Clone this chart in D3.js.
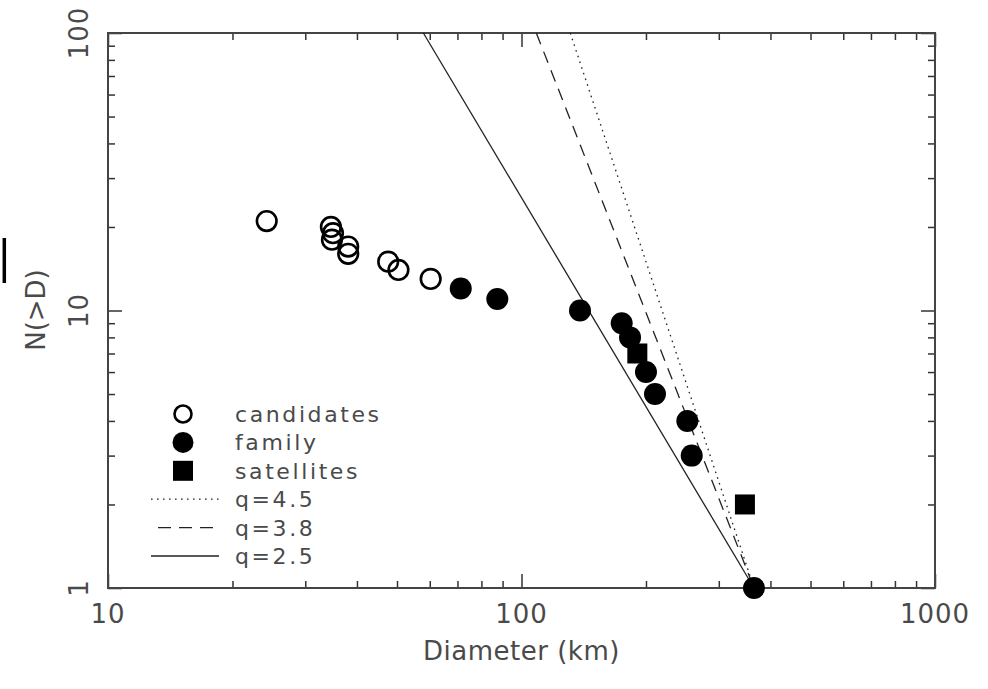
<!DOCTYPE html>
<html>
<head>
<meta charset="utf-8">
<script src="https://cdn.jsdelivr.net/npm/d3@7"></script>
<style>
  html, body { margin: 0; padding: 0; background: #fff; }
  svg { display: block; }
  text { font-family: "DejaVu Sans", sans-serif; fill: #4a4a4a; }
</style>
</head>
<body>
<svg id="chart" width="988" height="689"></svg>
<script>
// ---- data ----
const candidateD = [24.2, 34.6, 35.0, 34.8, 38.1, 38.1, 47.6, 50.4, 60.3];
const candidateN = [21, 20, 19, 18, 17, 16, 15, 14, 13];

const familyD = [71.3, 87.4, 138.5, 174.7, 183, 200, 210.3, 251.8, 258, 365];
const familyN = [12, 11, 10, 9, 8, 6, 5, 4, 3, 1];

const satelliteD = [190.6, 347];
const satelliteN = [7, 2];

// model power laws N = (D/D0)^-q, stored as end points (N=100 down to N=1)
const modelQ = ["4.5", "3.8", "2.5"];
const modelD = [[131.2, 365], [108.6, 365], [57.9, 365]];
const modelN = [[100, 1], [100, 1], [100, 1]];

const xMajor = [10, 100, 1000];
const xMajorLabels = ["10", "100", "1000"];
const yMajor = [1, 10, 100];
const yMajorLabels = ["1", "10", "100"];

const legendLabels = ["candidates", "family", "satellites", "q=4.5", "q=3.8", "q=2.5"];
const legendKinds = ["open", "filled", "square", "dotted", "dashed", "solid"];

// ---- drawing ----
const svg = d3.select("#chart");
const L = 108, R = 935, T = 33, B = 588;
const x = d3.scaleLog().domain([10, 1000]).range([L, R]);
const y = d3.scaleLog().domain([1, 100]).range([B, T]);

const xMinor = [], yMinor = [];
[10, 100].forEach(dec => { for (let k = 2; k <= 9; k++) xMinor.push(dec * k); });
[1, 10].forEach(dec => { for (let k = 2; k <= 9; k++) yMinor.push(dec * k); });

const axisColor = "#333";
function styleAxis(g) {
  g.select(".domain").remove();
  g.selectAll(".tick line").attr("stroke", axisColor).attr("stroke-width", 1.5);
  g.selectAll(".tick text").remove();
}
const majLen = 14, minLen = 7;
svg.append("g").attr("transform", `translate(0,${B})`)
  .call(d3.axisBottom(x).tickValues(xMajor).tickSizeInner(-majLen).tickSizeOuter(0)).call(styleAxis);
svg.append("g").attr("transform", `translate(0,${B})`)
  .call(d3.axisBottom(x).tickValues(xMinor).tickSizeInner(-minLen).tickSizeOuter(0)).call(styleAxis);
svg.append("g").attr("transform", `translate(0,${T})`)
  .call(d3.axisTop(x).tickValues(xMajor).tickSizeInner(-majLen).tickSizeOuter(0)).call(styleAxis);
svg.append("g").attr("transform", `translate(0,${T})`)
  .call(d3.axisTop(x).tickValues(xMinor).tickSizeInner(-minLen).tickSizeOuter(0)).call(styleAxis);
svg.append("g").attr("transform", `translate(${L},0)`)
  .call(d3.axisLeft(y).tickValues(yMajor).tickSizeInner(-majLen).tickSizeOuter(0)).call(styleAxis);
svg.append("g").attr("transform", `translate(${L},0)`)
  .call(d3.axisLeft(y).tickValues(yMinor).tickSizeInner(-minLen).tickSizeOuter(0)).call(styleAxis);
svg.append("g").attr("transform", `translate(${R},0)`)
  .call(d3.axisRight(y).tickValues(yMajor).tickSizeInner(-majLen).tickSizeOuter(0)).call(styleAxis);
svg.append("g").attr("transform", `translate(${R},0)`)
  .call(d3.axisRight(y).tickValues(yMinor).tickSizeInner(-minLen).tickSizeOuter(0)).call(styleAxis);

// frame
svg.append("rect").attr("x", L).attr("y", T).attr("width", R - L).attr("height", B - T)
  .attr("fill", "none").attr("stroke", "#444").attr("stroke-width", 2);

// tick labels
svg.append("g").selectAll("text").data(xMajor).join("text")
  .attr("x", d => x(d)).attr("y", 623)
  .attr("text-anchor", "middle").attr("font-size", 26).attr("letter-spacing", 1)
  .text((d, i) => xMajorLabels[i]);
svg.append("g").selectAll("text").data(yMajor).join("text")
  .attr("x", 88).attr("y", d => y(d))
  .attr("transform", d => `rotate(-90,88,${y(d)})`)
  .attr("text-anchor", "middle").attr("font-size", 26).attr("letter-spacing", 1)
  .text((d, i) => yMajorLabels[i]);

// axis titles
svg.append("text").attr("x", (L + R) / 2).attr("y", 660)
  .attr("text-anchor", "middle").attr("font-size", 26).attr("letter-spacing", 0.5).text("Diameter (km)");
svg.append("text").attr("x", 45).attr("y", 310)
  .attr("transform", "rotate(-90,45,310)")
  .attr("text-anchor", "middle").attr("font-size", 26).text("N(>D)");

// stray mark at left edge
svg.append("line").attr("x1", 4.3).attr("x2", 4.3).attr("y1", 238).attr("y2", 283)
  .attr("stroke", "#000").attr("stroke-width", 3.5);

// model lines
const dashes = { "4.5": "1.6,4.4", "3.8": "12,8", "2.5": null };
const line = d3.line().x(p => x(p[0])).y(p => y(p[1]));
modelQ.forEach((q, i) => {
  const pts = modelD[i].map((d, j) => [d, modelN[i][j]]);
  svg.append("path").attr("d", line(pts))
    .attr("fill", "none").attr("stroke", "#222").attr("stroke-width", 1.3)
    .attr("stroke-dasharray", dashes[q]);
});

// points
svg.append("g").selectAll("circle").data(candidateD).join("circle")
  .attr("cx", d => x(d)).attr("cy", (d, i) => y(candidateN[i])).attr("r", 9.8)
  .attr("fill", "none").attr("stroke", "#000").attr("stroke-width", 2.6);
svg.append("g").selectAll("circle").data(familyD).join("circle")
  .attr("cx", d => x(d)).attr("cy", (d, i) => y(familyN[i])).attr("r", 11)
  .attr("fill", "#000");
svg.append("g").selectAll("rect").data(satelliteD).join("rect")
  .attr("x", d => x(d) - 10).attr("y", (d, i) => y(satelliteN[i]) - 10)
  .attr("width", 20).attr("height", 20).attr("fill", "#000");

// legend
const lg = svg.append("g");
const ly0 = 414, lstep = 28.4, lsx = 183, ltx = 235;
legendKinds.forEach((k, i) => {
  const cy = ly0 + i * lstep;
  if (k === "open") {
    lg.append("circle").attr("cx", lsx).attr("cy", cy).attr("r", 8.5)
      .attr("fill", "none").attr("stroke", "#000").attr("stroke-width", 2.6);
  } else if (k === "filled") {
    lg.append("circle").attr("cx", lsx).attr("cy", cy).attr("r", 10.5).attr("fill", "#000");
  } else if (k === "square") {
    lg.append("rect").attr("x", lsx - 10).attr("y", cy - 10).attr("width", 20).attr("height", 20).attr("fill", "#000");
  } else {
    const da = k === "dotted" ? "1.6,4.4" : (k === "dashed" ? "13,8" : null);
    const x1 = k === "dashed" ? 158 : 151;
    lg.append("line").attr("x1", x1).attr("x2", 219).attr("y1", cy).attr("y2", cy)
      .attr("stroke", "#222").attr("stroke-width", 1.3).attr("stroke-dasharray", da);
  }
  lg.append("text").attr("x", ltx).attr("y", cy + 8)
    .attr("font-size", 22).attr("letter-spacing", 2.6).text(legendLabels[i]);
});
</script>
</body>
</html>
